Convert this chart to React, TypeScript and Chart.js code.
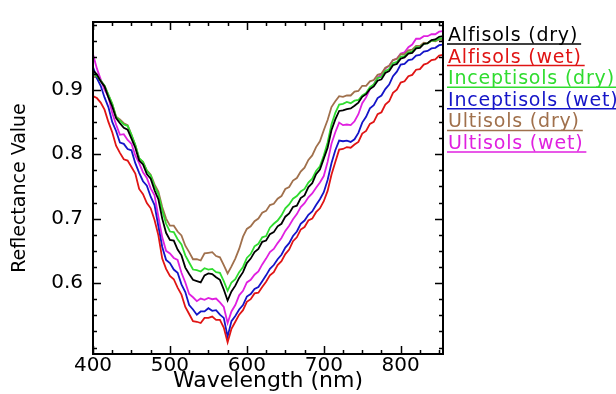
import React, { useEffect, useRef } from "react";
import { Chart, registerables } from "chart.js";

Chart.register(...registerables);

const FONT = '"DejaVu Sans", sans-serif';

const wavelengths = [
  400, 405, 410, 415, 420, 425, 430, 435, 440, 445,
  450, 455, 460, 465, 470, 475, 480, 485, 490, 495,
  500, 505, 510, 515, 520, 525, 530, 535, 540, 545,
  550, 555, 560, 565, 570, 575, 580, 585, 590, 595,
  600, 605, 610, 615, 620, 625, 630, 635, 640, 645,
  650, 655, 660, 665, 670, 675, 680, 685, 690, 695,
  700, 705, 710, 715, 720, 725, 730, 735, 740, 745,
  750, 755, 760, 765, 770, 775, 780, 785, 790, 795,
  800, 805, 810, 815, 820, 825, 830, 835, 840, 845,
  850, 855,
];

const seriesNames = [
  "Alfisols (dry)",
  "Alfisols (wet)",
  "Inceptisols (dry)",
  "Inceptisols (wet)",
  "Ultisols (dry)",
  "Ultisols (wet)",
];

const seriesColors = ["#000000", "#e01414", "#2fdc2f", "#1414c8", "#a0704c", "#e020e0"];

const alfisolsDry = [
  .930, .924, .913, .905, .888, .874, .856, .848, .841, .838,
  .824, .810, .790, .784, .769, .762, .744, .730, .700, .678,
  .667, .666, .652, .643, .624, .614, .605, .603, .601, .612,
  .615, .614, .609, .605, .590, .573, .587, .596, .608, .617,
  .631, .638, .648, .653, .664, .666, .676, .679, .688, .692,
  .703, .708, .718, .720, .732, .736, .749, .755, .769, .776,
  .793, .810, .837, .854, .867, .868, .870, .871, .875, .880,
  .889, .893, .901, .905, .914, .916, .926, .929, .938, .940,
  .948, .950, .956, .957, .964, .965, .971, .972, .977, .978,
  .982, .983,
];

const alfisolsWet = [
  .890, .887, .880, .869, .850, .834, .813, .802, .792, .790,
  .780, .770, .746, .738, .724, .716, .698, .674, .638, .622,
  .611, .606, .593, .582, .563, .552, .541, .540, .538, .546,
  .546, .548, .543, .543, .531, .508, .529, .540, .551, .558,
  .571, .575, .584, .585, .594, .602, .612, .617, .628, .634,
  .645, .652, .665, .671, .683, .687, .697, .700, .710, .716,
  .727, .743, .768, .788, .807, .808, .811, .810, .815, .819,
  .832, .836, .847, .850, .862, .865, .877, .882, .895, .900,
  .911, .913, .921, .923, .931, .932, .939, .941, .946, .947,
  .953, .954,
];

const inceptisolsDry = [
  .925, .921, .914, .906, .892, .878, .858, .852, .846, .844,
  .830, .814, .794, .788, .774, .767, .750, .738, .713, .692,
  .680, .679, .668, .660, .643, .632, .621, .620, .618, .623,
  .621, .622, .617, .616, .603, .588, .601, .606, .617, .625,
  .639, .645, .657, .661, .671, .673, .686, .692, .697, .705,
  .716, .722, .731, .735, .742, .746, .756, .762, .774, .781,
  .798, .818, .846, .864, .877, .878, .881, .879, .883, .884,
  .891, .895, .904, .908, .918, .920, .929, .932, .941, .943,
  .951, .952, .958, .959, .966, .966, .971, .972, .976, .976,
  .979, .980,
];

const inceptisolsWet = [
  .935, .918, .906, .888, .873, .850, .836, .818, .816, .808,
  .806, .786, .771, .758, .751, .734, .721, .688, .656, .636,
  .631, .621, .616, .598, .586, .566, .559, .551, .556, .556,
  .561, .557, .558, .551, .546, .517, .541, .549, .559, .566,
  .579, .583, .591, .594, .603, .612, .622, .628, .637, .644,
  .655, .662, .673, .680, .692, .697, .706, .711, .721, .730,
  .741, .760, .786, .806, .821, .820, .821, .819, .823, .833,
  .849, .858, .871, .876, .887, .891, .901, .908, .921, .928,
  .939, .940, .946, .947, .953, .954, .959, .960, .964, .965,
  .969, .970,
];

const ultisolsDry = [
  .920, .919, .914, .906, .892, .878, .858, .854, .848, .845,
  .830, .814, .793, .788, .775, .768, .753, .742, .718, .700,
  .689, .689, .680, .674, .658, .648, .637, .637, .635, .646,
  .647, .648, .642, .640, .628, .615, .626, .638, .653, .672,
  .684, .688, .696, .700, .709, .712, .721, .723, .731, .735,
  .746, .749, .759, .763, .773, .779, .791, .798, .811, .820,
  .837, .853, .873, .882, .890, .889, .891, .891, .897, .898,
  .906, .906, .913, .915, .923, .925, .934, .937, .946, .948,
  .955, .955, .961, .962, .968, .968, .973, .972, .976, .975,
  .978, .977,
];

const ultisolsWet = [
  .955, .933, .916, .900, .889, .864, .846, .830, .831, .822,
  .816, .798, .786, .772, .763, .747, .736, .703, .671, .650,
  .646, .639, .636, .616, .601, .583, .578, .572, .576, .574,
  .577, .575, .576, .570, .563, .538, .556, .566, .581, .588,
  .601, .605, .613, .618, .629, .638, .648, .653, .662, .670,
  .681, .689, .699, .707, .718, .724, .733, .739, .748, .756,
  .766, .788, .816, .834, .849, .845, .846, .845, .851, .862,
  .879, .888, .901, .908, .919, .923, .933, .937, .946, .948,
  .956, .958, .966, .970, .979, .979, .983, .983, .986, .986,
  .990, .991,
];

const seriesValues = [alfisolsDry, alfisolsWet, inceptisolsDry, inceptisolsWet, ultisolsDry, ultisolsWet];

const xMajorTicks = [400, 500, 600, 700, 800];
const xMinorTicks = [425, 450, 475, 525, 550, 575, 625, 650, 675, 725, 750, 775, 825, 850];
const yMajorTicks = [0.6, 0.7, 0.8, 0.9];
const yMinorTicks = [0.5, 0.525, 0.55, 0.575, 0.625, 0.65, 0.675, 0.725, 0.75, 0.775, 0.825, 0.85, 0.875, 0.925, 0.95, 0.975, 1.0];

const frameAndTicks = {
  id: "frameAndTicks",
  afterDatasetsDraw(chart: any) {
    const { ctx, chartArea } = chart;
    const { left, right, top, bottom } = chartArea;
    const xs = chart.scales.x;
    const ys = chart.scales.y;
    ctx.save();
    ctx.strokeStyle = "#000";
    ctx.lineWidth = 1.5;
    ctx.beginPath();
    const xt = (v: number, len: number) => {
      const p = Math.round(xs.getPixelForValue(v)) + 0.5;
      ctx.moveTo(p, bottom);
      ctx.lineTo(p, bottom - len);
      ctx.moveTo(p, top);
      ctx.lineTo(p, top + len);
    };
    const yt = (v: number, len: number) => {
      const p = Math.round(ys.getPixelForValue(v)) + 0.5;
      ctx.moveTo(left, p);
      ctx.lineTo(left + len, p);
      ctx.moveTo(right, p);
      ctx.lineTo(right - len, p);
    };
    xMajorTicks.forEach((v) => xt(v, 8));
    xMinorTicks.forEach((v) => xt(v, 4));
    yMajorTicks.forEach((v) => yt(v, 8));
    yMinorTicks.forEach((v) => yt(v, 4));
    ctx.stroke();
    ctx.lineWidth = 2;
    ctx.strokeRect(left, top, right - left, bottom - top);
    ctx.restore();
  },
};

const underlinedLegend = {
  id: "underlinedLegend",
  afterDraw(chart: any) {
    const { ctx, chartArea } = chart;
    const x0 = chartArea.right + 5;
    ctx.save();
    ctx.font = `19px ${FONT}`;
    try {
      (ctx as any).letterSpacing = "0.8px";
    } catch (e) {
      /* ignore */
    }
    ctx.textBaseline = "alphabetic";
    ctx.textAlign = "left";
    chart.data.datasets.forEach((ds: any, i: number) => {
      const yu = chartArea.top + 22 + i * 21.6;
      ctx.fillStyle = ds.borderColor;
      ctx.fillText(ds.label, x0, yu - 3);
      const w = ctx.measureText(ds.label).width;
      ctx.strokeStyle = ds.borderColor;
      ctx.lineWidth = 1.5;
      ctx.beginPath();
      ctx.moveTo(x0 - 1, yu);
      ctx.lineTo(x0 + w + 3, yu);
      ctx.stroke();
    });
    ctx.restore();
  },
};

export default function App() {
  const ref = useRef<HTMLCanvasElement | null>(null);

  useEffect(() => {
    if (!ref.current) return;
    const chart = new Chart(ref.current, {
      type: "line",
      data: {
        datasets: seriesNames.map((name, si) => ({
          label: name,
          data: wavelengths.map((w, i) => ({ x: w, y: seriesValues[si][i] })),
          borderColor: seriesColors[si],
          backgroundColor: seriesColors[si],
          borderWidth: 1.8,
          pointRadius: 0,
          tension: 0,
          fill: false,
        })),
      },
      options: {
        responsive: false,
        animation: false,
        events: [],
        layout: { padding: { left: 0, top: 13, right: 173, bottom: 0 } },
        plugins: {
          legend: { display: false },
          tooltip: { enabled: false },
        },
        scales: {
          x: {
            type: "linear",
            min: 400,
            max: 855,
            grid: { display: false, drawTicks: false },
            border: { display: false },
            afterBuildTicks: (s: any) => {
              s.ticks = xMajorTicks.map((v) => ({ value: v }));
            },
            afterFit: (s: any) => {
              s.height = 40;
            },
            ticks: {
              padding: 0,
              color: "#000",
              autoSkip: false,
              maxRotation: 0,
              font: { family: FONT, size: 20 },
              callback: (v: any) => String(v),
            },
            title: {
              display: true,
              text: "Wavelength (nm)",
              color: "#000",
              font: { family: FONT, size: 22 },
              padding: { top: 0, bottom: 0 },
            },
          },
          y: {
            type: "linear",
            min: 0.49,
            max: 1.005,
            grid: { display: false, drawTicks: false },
            border: { display: false },
            afterBuildTicks: (s: any) => {
              s.ticks = yMajorTicks.map((v) => ({ value: v }));
            },
            afterFit: (s: any) => {
              s.width = 93;
            },
            ticks: {
              padding: 10,
              color: "#000",
              autoSkip: false,
              font: { family: FONT, size: 20 },
              callback: (v: any) => Number(v).toFixed(1),
            },
            title: {
              display: true,
              text: "Reflectance Value",
              color: "#000",
              font: { family: FONT, size: 19 },
              padding: { top: 9, bottom: 0 },
            },
          },
        },
      },
      plugins: [frameAndTicks, underlinedLegend],
    });
    return () => chart.destroy();
  }, []);

  return (
    <div style={{ position: "fixed", left: 0, top: 0, width: 616, height: 394, background: "#fff" }}>
      <canvas ref={ref} width={616} height={394} style={{ display: "block" }} />
    </div>
  );
}
